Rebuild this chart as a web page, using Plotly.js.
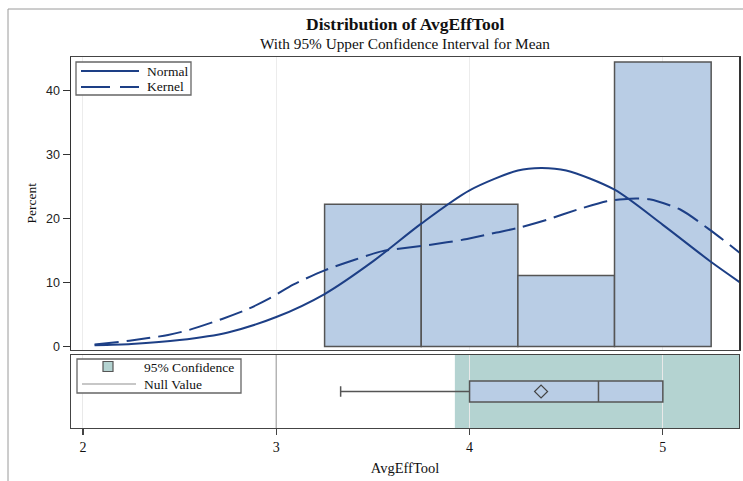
<!DOCTYPE html>
<html>
<head>
<meta charset="utf-8">
<script src="https://cdn.plot.ly/plotly-3.0.1.min.js"></script>
<style>
html,body{margin:0;padding:0;background:#fff;}
#chart{width:743px;height:481px;}
</style>
</head>
<body>
<div id="chart"></div>
<script>
// ---------- data ----------
const binCenters = [3.5, 4.0, 4.5, 5.0];
const binPercents = [22.22, 22.22, 11.11, 44.44];
const binWidth = 0.5;

const normalX = [2.06, 2.25, 2.5, 2.75, 3.0, 3.25, 3.5, 3.75, 4.0, 4.25, 4.37, 4.5, 4.75, 5.0, 5.25, 5.4];
const normalY = [0.2, 0.4, 1.0, 2.2, 4.6, 8.2, 13.3, 19.2, 24.4, 27.5, 27.9, 27.5, 24.5, 19.0, 13.2, 10.0];

const kernelX = [2.06, 2.24, 2.44, 2.55, 2.72, 2.85, 2.97, 3.09, 3.25, 3.41, 3.55, 3.80, 3.97, 4.14, 4.26, 4.40, 4.57, 4.71, 4.83, 4.93, 5.09, 5.24, 5.40];
const kernelY = [0.3, 0.9, 1.8, 2.6, 4.3, 5.8, 7.6, 9.7, 11.9, 13.6, 14.9, 15.9, 16.7, 17.8, 18.6, 19.8, 21.5, 22.7, 23.1, 23.0, 21.4, 18.3, 14.6];

const boxMin = [3.333];
const boxQ1 = [4.0];
const boxMedian = [4.667];
const boxQ3 = [5.0];
const boxMax = [5.0];
const boxMean = [4.37];

const confLower = 3.924;
const nullValue = 3;

const xTicks = [2, 3, 4, 5];
const yTicks = [0, 10, 20, 30, 40];

const titleText = 'Distribution of AvgEffTool';
const subtitleText = 'With 95% Upper Confidence Interval for Mean';
const xTitle = 'AvgEffTool';
const yTitle = 'Percent';
const topLegend = ['Normal', 'Kernel'];
const bottomLegend = ['95% Confidence', 'Null Value'];

// ---------- styling ----------
const W = 743, H = 481;
const M = {l: 71, r: 4, t: 57, b: 53};
const PW = W - M.l - M.r, PH = H - M.t - M.b;
const px = v => (v - M.l) / PW;          // pixel -> paper x
const py = v => (H - M.b - v) / PH;      // pixel -> paper y

const SERIF = 'Liberation Serif, Times New Roman, serif';
const SANS = 'Liberation Sans, Arial, sans-serif';
const CURVE = '#1d3f86';
const BARFILL = '#b9cde5';
const EDGE = '#555555';
const BAND = '#b4d3d1';
const X_RANGE = [1.938, 5.394];

const traces = [
  {type: 'bar', x: binCenters, y: binPercents, width: binWidth,
   xaxis: 'x2', yaxis: 'y',
   marker: {color: BARFILL, line: {color: EDGE, width: 1.5}}, hoverinfo: 'skip'},
  {type: 'scatter', mode: 'lines', x: normalX, y: normalY, xaxis: 'x2', yaxis: 'y',
   line: {color: CURVE, width: 2, shape: 'spline', smoothing: 0.8}},
  {type: 'scatter', mode: 'lines', x: kernelX, y: kernelY, xaxis: 'x2', yaxis: 'y',
   line: {color: CURVE, width: 2, shape: 'spline', smoothing: 0.7, dash: '24px,8px'}},
  {type: 'scatter', mode: 'lines', x: [nullValue, nullValue], y: [0, 1], xaxis: 'x', yaxis: 'y2',
   line: {color: '#b4b4b4', width: 1.5}},
  {type: 'box', orientation: 'h', y: [0.5], xaxis: 'x', yaxis: 'y2',
   lowerfence: boxMin, q1: boxQ1, median: boxMedian, q3: boxQ3, upperfence: boxMax,
   width: 0.29, whiskerwidth: 0.5, boxpoints: false,
   fillcolor: BARFILL, line: {color: EDGE, width: 1.5}},
  {type: 'scatter', mode: 'markers', x: boxMean, y: [0.5], xaxis: 'x', yaxis: 'y2',
   marker: {symbol: 'diamond-open', size: 10, color: '#444', line: {width: 1.2, color: '#444'}}}
];

const shapes = [
  // confidence band
  {type: 'rect', xref: 'x', yref: 'y2 domain', x0: confLower, x1: X_RANGE[1], y0: 0, y1: 1,
   fillcolor: BAND, line: {width: 0}, layer: 'below'},
  // outer frame
  {type: 'rect', xref: 'paper', yref: 'paper', x0: px(8), x1: px(780), y0: py(520), y1: py(9),
   line: {color: '#9a9a9a', width: 1}, fillcolor: 'rgba(0,0,0,0)'},
  // top legend
  {type: 'rect', xref: 'paper', yref: 'paper', x0: px(76), x1: px(191), y0: py(95), y1: py(62),
   line: {color: '#666', width: 1.3}, fillcolor: 'white'},
  {type: 'line', xref: 'paper', yref: 'paper', x0: px(81), x1: px(139), y0: py(71), y1: py(71),
   line: {color: CURVE, width: 2}},
  {type: 'line', xref: 'paper', yref: 'paper', x0: px(81), x1: px(139), y0: py(87), y1: py(87),
   line: {color: CURVE, width: 2, dash: '29px,10px'}},
  // bottom legend
  {type: 'rect', xref: 'paper', yref: 'paper', x0: px(77), x1: px(241), y0: py(393), y1: py(359),
   line: {color: '#666', width: 1.3}, fillcolor: 'white'},
  {type: 'rect', xref: 'paper', yref: 'paper', x0: px(103), x1: px(113), y0: py(371.5), y1: py(361.5),
   line: {color: '#555', width: 1.2}, fillcolor: BAND},
  {type: 'line', xref: 'paper', yref: 'paper', x0: px(82), x1: px(136), y0: py(384), y1: py(384),
   line: {color: '#b4b4b4', width: 1.5}}
];

const legendText = (t, x, y) => ({text: t, xref: 'paper', yref: 'paper', x: px(x), y: py(y),
  xanchor: 'left', yanchor: 'middle', showarrow: false, font: {family: SERIF, size: 13.5, color: '#111'}});

const annotations = [
  {text: '<b>' + titleText + '</b>', xref: 'paper', yref: 'paper', x: 0.5, y: py(24),
   xanchor: 'center', yanchor: 'middle', showarrow: false, font: {family: SERIF, size: 17.5, color: '#111'}},
  {text: subtitleText, xref: 'paper', yref: 'paper', x: 0.5, y: py(43),
   xanchor: 'center', yanchor: 'middle', showarrow: false, font: {family: SERIF, size: 15.3, color: '#111'}},
  legendText(topLegend[0], 145, 71),
  legendText(topLegend[1], 145, 87),
  legendText(bottomLegend[0], 142, 367),
  legendText(bottomLegend[1], 142, 384)
];

const layout = {
  width: W, height: H,
  margin: M,
  paper_bgcolor: '#fff', plot_bgcolor: '#fff',
  showlegend: false,
  xaxis: {anchor: 'y2', domain: [0, 1], range: X_RANGE,
    tickmode: 'array', tickvals: xTicks, ticktext: xTicks.map(String),
    ticks: 'outside', ticklen: 6, tickcolor: '#444', tickwidth: 1.2,
    tickfont: {family: SERIF, size: 14, color: '#111'},
    showgrid: true, gridcolor: '#e9e9e9', gridwidth: 1, zeroline: false,
    showline: true, mirror: true, linecolor: '#444', linewidth: 1.4,
    title: {text: xTitle, font: {family: SERIF, size: 14.5, color: '#111'}, standoff: 8}},
  yaxis2: {domain: [0, py(355)], range: [0, 1], showticklabels: false, ticks: '',
    showgrid: false, zeroline: false, showline: true, mirror: true, linecolor: '#444', linewidth: 1.4,
    fixedrange: true},
  xaxis2: {anchor: 'y', matches: 'x', range: X_RANGE, showticklabels: false, ticks: '',
    tickmode: 'array', tickvals: xTicks,
    showgrid: true, gridcolor: '#ececec', gridwidth: 1, zeroline: false,
    showline: true, mirror: true, linecolor: '#444', linewidth: 1.4},
  yaxis: {domain: [py(349.5), 1], range: [-0.47, 45.23],
    tickmode: 'array', tickvals: yTicks, ticktext: yTicks.map(String),
    ticks: 'outside', ticklen: 7, tickcolor: '#333', tickwidth: 1.2,
    tickfont: {family: SANS, size: 12.5, color: '#222'},
    showgrid: false, zeroline: false,
    showline: true, mirror: true, linecolor: '#333', linewidth: 1.5,
    title: {text: yTitle, font: {family: SERIF, size: 13.5, color: '#111'}, standoff: 6}},
  shapes: shapes,
  annotations: annotations,
  bargap: 0
};

Plotly.newPlot('chart', traces, layout, {staticPlot: true, displayModeBar: false});
</script>
</body>
</html>
